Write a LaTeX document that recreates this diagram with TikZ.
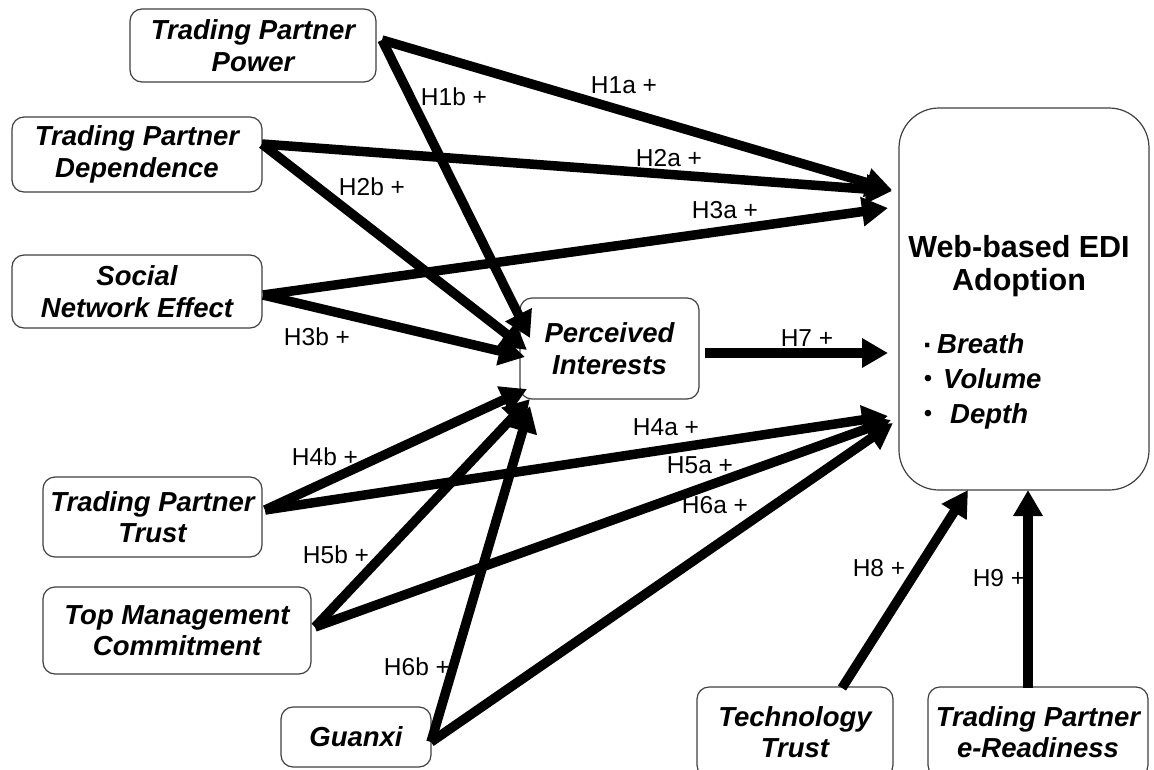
\documentclass[tikz,border=0pt]{standalone}
\usepackage{fontspec}
\setmainfont{Liberation Sans}
\usetikzlibrary{arrows.meta}
\begin{document}
\begin{tikzpicture}[x=1pt,y=-1pt,
  box/.style={draw=black!75, line width=1.2pt, rounded corners=12pt, align=center, inner sep=0pt,
    font=\fontsize{27.5}{31.5}\selectfont\bfseries\itshape},
  arr/.style={line width=9.5pt, -{Triangle[length=26pt,width=28pt]}},
  lab/.style={font=\fontsize{24.5}{28}\selectfont, inner sep=0pt},
  itm/.style={font=\fontsize{27.5}{31.5}\selectfont\bfseries\itshape, inner sep=0pt, anchor=base west},
  bul/.style={font=\fontsize{24}{24}\selectfont, inner sep=0pt, anchor=base},
  ]
\useasboundingbox[fill=white] (0,0) rectangle (1154,769);

% boxes
\node[box, minimum width=246pt, minimum height=73pt] (pow) at (253,45.5) {Trading Partner\\Power};
\node[box, minimum width=250pt, minimum height=75pt] (dep) at (137,154.5) {Trading Partner\\Dependence};
\node[box, minimum width=250pt, minimum height=73pt] (soc) at (137,291.5) {Social\\Network Effect};
\node[box, minimum width=179pt, minimum height=101pt] (per) at (609.5,348.5) {Perceived\\Interests};
\node[box, minimum width=219pt, minimum height=80pt] (tpt) at (152.5,517) {Trading Partner\\Trust};
\node[box, minimum width=268pt, minimum height=87pt] (tmc) at (177,630.5) {Top Management\\Commitment};
\node[box, minimum width=150pt, minimum height=60pt] (gua) at (356,737) {Guanxi};
\node[box, minimum width=196pt, minimum height=90pt] (tec) at (795,732) {Technology\\Trust};
\node[box, minimum width=220pt, minimum height=90pt] (ter) at (1038,732) {Trading Partner\\e-Readiness};
\node[draw=black!75, line width=1.2pt, rounded corners=40pt, minimum width=250pt, minimum height=382pt, inner sep=0pt] (web) at (1024,299) {};

% web box texts
\node[font=\fontsize{30.5}{33}\selectfont\bfseries, align=center, inner sep=0pt] (webt) at (1019,266.5) {Web-based EDI\\Adoption};
\node[bul, font=\fontsize{30}{30}\selectfont\bfseries] (b1) at (928,355) {·};
\node[bul] (b2) at (928,386) {•};
\node[bul] (b3) at (928,421) {•};
\node[itm] (i1) at (937,353) {Breath};
\node[itm] (i2) at (943,388) {Volume};
\node[itm] (i3) at (950,423) {Depth};

% connector ends
\coordinate (powO) at (382,40);
\coordinate (depO) at (262,144);
\coordinate (socO) at (263,295);
\coordinate (tptO) at (265,510);
\coordinate (tmcO) at (315,627);
\coordinate (guaO) at (431,742);
\coordinate (perO) at (705,353);
\coordinate (tecO) at (842,688);
\coordinate (terO) at (1028,688);

\coordinate (w1) at (892,190);
\coordinate (w2) at (892,191);
\coordinate (w3) at (888,208);
\coordinate (w7) at (888,353);
\coordinate (w4) at (888,416);
\coordinate (w5) at (891,420);
\coordinate (w6) at (893,423);
\coordinate (w8) at (968,490);
\coordinate (w9) at (1028,490);

\coordinate (p1) at (530,338);
\coordinate (p2) at (527,350);
\coordinate (p3) at (525,357);
\coordinate (p4) at (527,389);
\coordinate (p5) at (530,399);
\coordinate (p6) at (530,406);

% arrows
\draw[arr] (powO) -- (w1);
\draw[arr] (depO) -- (w2);
\draw[arr] (socO) -- (w3);
\draw[arr] (powO) -- (p1);
\draw[arr] (depO) -- (p2);
\draw[arr] (socO) -- (p3);
\draw[arr] (perO) -- (w7);
\draw[arr] (tptO) -- (w4);
\draw[arr] (tmcO) -- (w5);
\draw[arr] (guaO) -- (w6);
\draw[arr] (tptO) -- (p4);
\draw[arr] (tmcO) -- (p5);
\draw[arr] (guaO) -- (p6);
\draw[arr] (tecO) -- (w8);
\draw[arr] (terO) -- (w9);

% labels
\node[lab] (l1a) at (624,85) {H1a +};
\node[lab] (l2a) at (669,158) {H2a +};
\node[lab] (l3a) at (725,210) {H3a +};
\node[lab] (l1b) at (454,97) {H1b +};
\node[lab] (l2b) at (372,187) {H2b +};
\node[lab] (l3b) at (317,337) {H3b +};
\node[lab] (l7) at (807,338) {H7 +};
\node[lab] (l4a) at (666,427) {H4a +};
\node[lab] (l5a) at (700,465) {H5a +};
\node[lab] (l6a) at (715,505) {H6a +};
\node[lab] (l4b) at (325,457) {H4b +};
\node[lab] (l5b) at (336,555) {H5b +};
\node[lab] (l6b) at (417,667) {H6b +};
\node[lab] (l8) at (879,568) {H8 +};
\node[lab] (l9) at (999,578) {H9 +};
\end{tikzpicture}
\end{document}
